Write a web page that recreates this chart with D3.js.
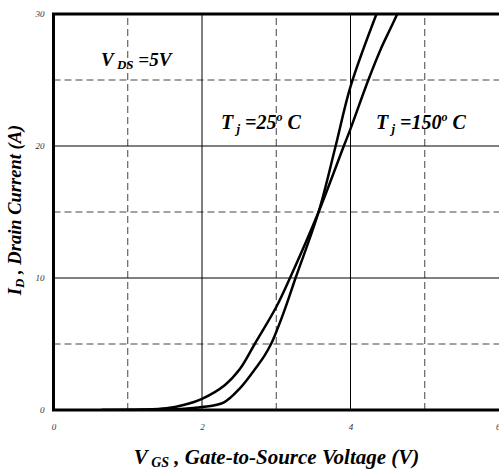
<!DOCTYPE html>
<html>
<head>
<meta charset="utf-8">
<script src="https://cdn.jsdelivr.net/npm/d3@7"></script>
<style>
  html, body { margin: 0; padding: 0; background: #fff; }
  svg { display: block; }
  text { font-family: "Liberation Serif", "Times New Roman", serif; }
</style>
</head>
<body>
<svg id="chart" width="499" height="473"></svg>
<script>
// ---- data ----
const xTicks = [0, 2, 4, 6];
const yTicks = [0, 10, 20, 30];
const xMajorGrid = [2, 4];
const xMinorGrid = [1, 3, 5];
const yMajorGrid = [10, 20];
const yMinorGrid = [5, 15, 25];

const vgs25 = [0.65, 1.3, 1.7, 2.0, 2.29, 2.51, 2.74, 2.84, 2.93, 3.02, 3.12, 3.26, 3.57, 3.80, 4.0, 4.35];
const id25  = [0,    0.02, 0.08, 0.22, 0.56, 1.64, 3.3, 4.1, 5.0, 6.2,  7.7,  10,   15,   20,   24.5, 30];

const vgs150 = [0.65, 1.2, 1.52, 1.75, 2.0, 2.31, 2.51, 2.71, 3.0, 3.185, 3.57, 3.91, 4.0, 4.24, 4.42, 4.53, 4.63];
const id150  = [0,    0.03, 0.13, 0.38, 0.85, 1.9, 3.1, 5.0, 7.8, 10,    15,   20,   21.3, 25,  27.5, 28.8, 30];

// ---- layout ----
const svg = d3.select("#chart");
const x = d3.scaleLinear().domain([0, 6]).range([53.5, 499]);
const y = d3.scaleLinear().domain([0, 30]).range([410, 14]);

// grid
const g = svg.append("g");
g.selectAll(".vmin").data(xMinorGrid).join("line")
  .attr("x1", d => x(d)).attr("x2", d => x(d)).attr("y1", y(0)).attr("y2", y(30))
  .attr("stroke", "#444").attr("stroke-width", 1).attr("stroke-dasharray", "7,4");
g.selectAll(".hmin").data(yMinorGrid).join("line")
  .attr("x1", x(0)).attr("x2", x(6)).attr("y1", d => y(d)).attr("y2", d => y(d))
  .attr("stroke", "#444").attr("stroke-width", 1).attr("stroke-dasharray", "7,4");
g.selectAll(".vmaj").data(xMajorGrid).join("line")
  .attr("x1", d => x(d)).attr("x2", d => x(d)).attr("y1", y(0)).attr("y2", y(30))
  .attr("stroke", "#000").attr("stroke-width", 1);
g.selectAll(".hmaj").data(yMajorGrid).join("line")
  .attr("x1", x(0)).attr("x2", x(6)).attr("y1", d => y(d)).attr("y2", d => y(d))
  .attr("stroke", "#000").attr("stroke-width", 1);

// clip
svg.append("clipPath").attr("id", "clip").append("rect")
  .attr("x", x(0)).attr("y", y(30)).attr("width", x(6) - x(0)).attr("height", y(0) - y(30));

// curves
const line = d3.line().x(d => x(d[0])).y(d => y(d[1])).curve(d3.curveCatmullRom.alpha(0.5));
const series = [d3.zip(vgs25, id25), d3.zip(vgs150, id150)];
svg.append("g").attr("clip-path", "url(#clip)")
  .selectAll("path").data(series).join("path")
  .attr("d", line).attr("fill", "none").attr("stroke", "#000").attr("stroke-width", 2.5);

// frame (left, bottom, top)
svg.append("path")
  .attr("d", `M${x(6)},${y(30)}H${x(0)}V${y(0)}H${x(6)}`)
  .attr("fill", "none").attr("stroke", "#000").attr("stroke-width", 3);

// axes with d3
const xAxis = d3.axisBottom(x).tickValues(xTicks).tickSize(0).tickPadding(14).tickFormat(d3.format("d"));
const yAxis = d3.axisLeft(y).tickValues(yTicks).tickSize(0).tickPadding(9).tickFormat(d3.format("d"));
const gx = svg.append("g").attr("transform", `translate(0,${y(0)})`).call(xAxis);
const gy = svg.append("g").attr("transform", `translate(${x(0)},0)`).call(yAxis);
[gx, gy].forEach(a => {
  a.select(".domain").remove();
  a.selectAll("text").attr("font-family", "Liberation Serif").attr("font-style", "italic")
    .attr("font-size", 9).attr("fill", "#333");
});
// keep the last x tick label inside the picture
gx.selectAll(".tick").filter(d => d === 6).select("text").attr("text-anchor", "end").attr("dx", 1);

// annotation helper
function label(xp, yp, parts, size) {
  const t = svg.append("text").attr("x", xp).attr("y", yp)
    .attr("font-weight", "bold").attr("font-style", "italic").attr("font-size", size);
  parts.forEach(p => {
    const s = t.append("tspan").text(p.t);
    if (p.size) s.attr("font-size", p.size);
    if (p.dy) s.attr("dy", p.dy);
  });
  return t;
}

label(101, 66, [{t: "V"}, {t: " DS", size: 13, dy: 3}, {t: " =5V", dy: -3}], 19);
label(221, 129, [{t: "T"}, {t: " j", size: 13, dy: 4}, {t: " =25", dy: -4}, {t: "o", size: 12, dy: -8}, {t: " C", dy: 8}], 20);
label(376, 129, [{t: "T"}, {t: " j", size: 13, dy: 4}, {t: " =150", dy: -4}, {t: "o", size: 12, dy: -8}, {t: " C", dy: 8}], 20);

// axis titles
label(0, 0, [{t: "V"}, {t: " GS", size: 14, dy: 3}, {t: " , Gate-to-Source Voltage (V)", dy: -3}], 21)
  .attr("x", 276.5).attr("y", 464).attr("text-anchor", "middle");

label(0, 0, [{t: "I"}, {t: "D", size: 13, dy: 3}, {t: " , Drain Current (A)", dy: -3}], 18.5)
  .attr("text-anchor", "middle").attr("transform", "translate(21,210) rotate(-90)");
</script>
</body>
</html>
